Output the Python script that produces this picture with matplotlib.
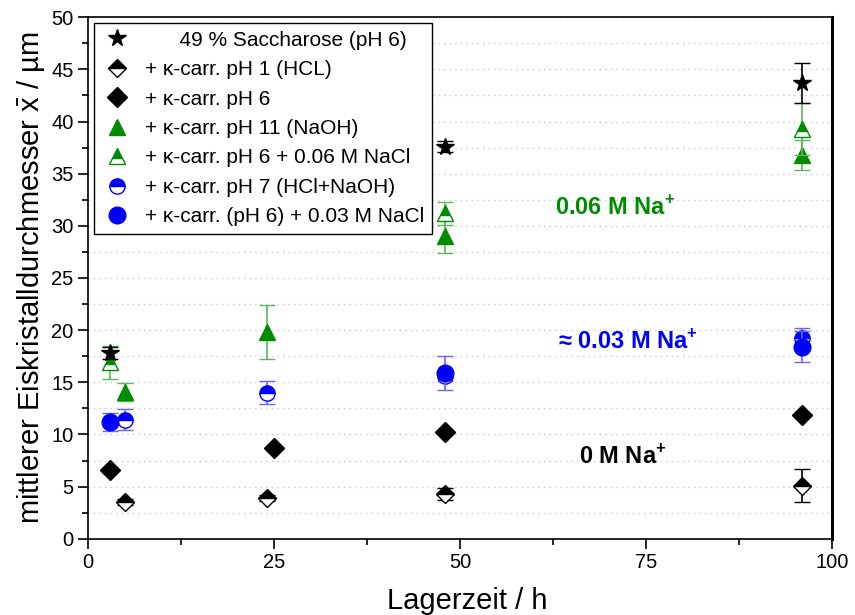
import numpy as np
import matplotlib.pyplot as plt
from matplotlib.lines import Line2D

plt.rcParams['font.family'] = ['Liberation Sans', 'DejaVu Sans']
plt.rcParams['mathtext.fontset'] = 'custom'
plt.rcParams['mathtext.rm'] = 'Liberation Sans'
plt.rcParams['mathtext.bf'] = 'Liberation Sans:bold'

GREEN = '#008C00'
BLUE = '#0000FF'

# Saccharose 49 %
t_sac = [3, 48, 96]
y_sac = [17.8, 37.6, 43.7]
e_sac = [0.6, 0.5, 1.9]

# kappa-carr. pH 1 (HCL)
t_ph1 = [5, 24, 48, 96]
y_ph1 = [3.5, 3.9, 4.3, 5.1]
e_ph1 = [0.3, 0.3, 0.6, 1.6]

# kappa-carr. pH 6
t_ph6 = [3, 25, 48, 96]
y_ph6 = [6.6, 8.7, 10.2, 11.9]
e_ph6 = [0.2, 0.2, 0.2, 0.2]

# kappa-carr. pH 11 (NaOH)
t_ph11 = [5, 24, 48, 96]
y_ph11 = [14.1, 19.8, 29.0, 36.8]
e_ph11 = [0.85, 2.6, 1.6, 1.4]

# kappa-carr. pH 6 + 0.06 M NaCl
t_na06 = [3, 48, 96]
y_na06 = [16.9, 31.2, 39.3]
e_na06 = [1.6, 1.1, 2.5]

# kappa-carr. pH 7 (HCl+NaOH)
t_ph7 = [5, 24, 48, 96]
y_ph7 = [11.4, 14.0, 15.6, 19.2]
e_ph7 = [1.0, 1.1, 0.5, 1.0]

# kappa-carr. (pH 6) + 0.03 M NaCl
t_na03 = [3, 48, 96]
y_na03 = [11.2, 15.9, 18.4]
e_na03 = [0.9, 1.6, 1.5]

labels = ['      49 % Saccharose (pH 6)',
          '+ \u03ba-carr. pH 1 (HCL)',
          '+ \u03ba-carr. pH 6',
          '+ \u03ba-carr. pH 11 (NaOH)',
          '+ \u03ba-carr. pH 6 + 0.06 M NaCl',
          '+ \u03ba-carr. pH 7 (HCl+NaOH)',
          '+ \u03ba-carr. (pH 6) + 0.03 M NaCl']

# marker styles per series
styles = [
    dict(marker='*', color='black', ms=13),
    dict(marker='D', color='black', mfc='black', mfcalt='white', fillstyle='top', mec='black', ms=9),
    dict(marker='D', color='black', ms=10),
    dict(marker='^', color=GREEN, ms=12),
    dict(marker='^', color=GREEN, mfc=GREEN, mfcalt='white', fillstyle='top', mec=GREEN, ms=12),
    dict(marker='o', color=BLUE, mfc=BLUE, mfcalt='white', fillstyle='top', mec=BLUE, ms=11),
    dict(marker='o', color=BLUE, ms=12),
]
series = [(t_sac, y_sac, e_sac, 'black', 6),
          (t_ph1, y_ph1, e_ph1, 'black', 5),
          (t_ph6, y_ph6, e_ph6, 'black', 5),
          (t_ph11, y_ph11, e_ph11, '#5CB85C', 4),
          (t_na06, y_na06, e_na06, '#5CB85C', 4),
          (t_ph7, y_ph7, e_ph7, '#6666FF', 4),
          (t_na03, y_na03, e_na03, '#6666FF', 4)]

fig = plt.figure(figsize=(8.55, 6.15), dpi=100)
ax = fig.add_axes([0.103, 0.124, 0.870, 0.848])

for (t, y, e, ec, z), st in zip(series, styles):
    ax.errorbar(t, y, yerr=e, fmt='none', ecolor=ec, capsize=6, elinewidth=1.2, zorder=z)
    ax.plot(t, y, linestyle='none', zorder=z, **st)

handles = [Line2D([], [], linestyle='none', **st) for st in styles]

ax.text(62.8, 31.7, '0.06 M Na$^\\mathbf{+}$', color=GREEN, fontsize=17, fontweight='bold',
        va='center', ha='left')
ax.text(63.2, 18.9, '\u2248 0.03 M Na$^\\mathbf{+}$', color=BLUE, fontsize=17, fontweight='bold',
        va='center', ha='left')
ax.text(66.0, 7.9, '0 M Na$^\\mathbf{+}$', color='black', fontsize=17, fontweight='bold',
        va='center', ha='left')

ax.set_xlim(0, 100)
ax.set_ylim(0, 50)
ax.set_xticks([0, 25, 50, 75, 100])
ax.set_xticks(np.arange(12.5, 100, 25), minor=True)
ax.set_yticks(np.arange(0, 51, 5))
ax.set_yticks(np.arange(2.5, 50, 5), minor=True)
ax.tick_params(axis='both', which='major', direction='out', length=7, width=1.2, labelsize=14.5)
ax.tick_params(axis='both', which='minor', direction='out', length=4, width=1.2)
ax.yaxis.grid(True, which='both', linestyle=(0, (1, 3)), color='#C8C8C8', linewidth=1)
ax.set_axisbelow(True)
for side in ['left', 'bottom', 'top']:
    ax.spines[side].set_linewidth(1.2)
ax.spines['right'].set_linewidth(2.2)

ax.set_xlabel('Lagerzeit / h', fontsize=21)
ax.xaxis.set_label_coords(0.51, -0.093)
ax.set_ylabel('mittlerer Eiskristalldurchmesser $\\bar{\\mathrm{x}}$ / \u00b5m', fontsize=21, labelpad=3)

leg = ax.legend(handles, labels, loc='upper left', fontsize=15, frameon=True, fancybox=False,
                edgecolor='black', handletextpad=0.6, borderaxespad=0.3,
                labelspacing=0.5, handlelength=1.5, borderpad=0.35)
leg.get_frame().set_linewidth(1.0)
leg.get_frame().set_alpha(1)

fig.savefig('out.png', dpi=100)
